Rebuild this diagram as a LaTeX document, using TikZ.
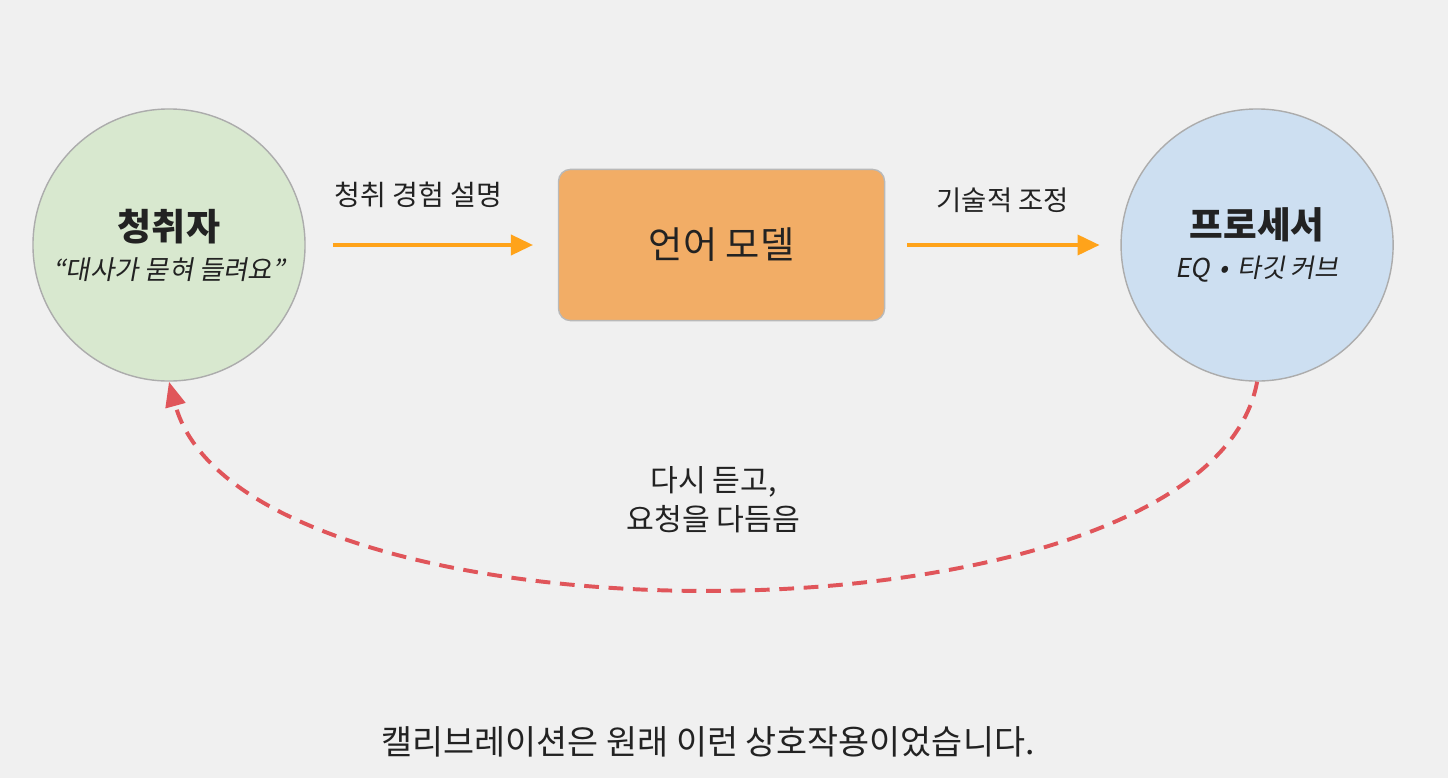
\documentclass[tikz,border=0pt]{standalone}
\usepackage{fontspec}
\setmainfont{Noto Sans CJK KR}
\newfontfamily\slantfont[FakeSlant=0.18]{Noto Sans CJK KR}
\usepackage{xcolor}
\usetikzlibrary{arrows.meta, positioning}

\definecolor{paper}{HTML}{F0F0F0}
\definecolor{inkgray}{HTML}{222222}
\definecolor{listgreen}{HTML}{D8E8CF}
\definecolor{procblue}{HTML}{CDDFF1}
\definecolor{modelorange}{HTML}{F2AD66}
\definecolor{arroworange}{HTML}{FFA31A}
\definecolor{loopred}{HTML}{E0555A}

\begin{document}
\begin{tikzpicture}[x=0.025cm, y=-0.025cm]
    % styles
    \tikzset{
        agent/.style = {circle, draw=gray!65, line width=1pt, minimum size=6.8cm, inner sep=0pt, align=center, text=inkgray},
        model/.style = {rectangle, draw=gray!55, line width=1pt, fill=modelorange, rounded corners=0.3cm, minimum width=8.15cm, minimum height=3.78cm, text=inkgray, font=\fontsize{26.5}{30}\selectfont},
        line/.style  = {draw=arroworange, line width=2.6pt, -{Triangle[length=0.55cm, width=0.5cm]}},
        back/.style  = {draw=loopred, line width=2.8pt, dash pattern=on 0.37cm off 0.24cm, -{Triangle[length=0.62cm, width=0.5cm]}},
        tag/.style   = {text=inkgray, font=\fontsize{20}{28}\selectfont, align=center}
    }

    % fond
    \fill[paper] (0,0) rectangle (1448,778);

    % noeuds principaux
    \node [agent, fill=listgreen] (listener) at (169,245)
        {{\bfseries\fontsize{26.3}{30}\selectfont 청취자}\\[0.3cm]{\slantfont\fontsize{18.8}{22}\selectfont “대사가 묻혀 들려요”}};
    \node [model, right=6.3cm of listener] (model) {언어 모델};
    \node [agent, fill=procblue, right=5.875cm of model] (processor)
        {{\bfseries\fontsize{26}{30}\selectfont 프로세서}\\[0.3cm]{\slantfont\fontsize{18.5}{22}\selectfont EQ\hspace{0.35em}•\hspace{0.35em}타깃 커브}};

    % connexions
    \path [line, shorten <=0.68cm, shorten >=0.62cm] (listener) -- node [tag, xshift=-0.33cm, yshift=1.25cm] (ask) {청취 경험 설명} (model);
    \path [line, shorten <=0.55cm, shorten >=0.52cm] (model) -- node [tag, font=\fontsize{19.5}{28}\selectfont, yshift=1.12cm] (tune) {기술적 조정} (processor);
    \path [back] (processor.south) .. controls +(-50,275) and +(75,275) .. node [tag, font=\fontsize{21.5}{28}\selectfont, xshift=-0.22cm, yshift=2.2cm] (retry) {다시 듣고,\\요청을 다듬음} (listener.south);

    % legende
    \node [text=inkgray, font=\fontsize{24}{28}\selectfont] (note) at (708,742) {캘리브레이션은 원래 이런 상호작용이었습니다.};
\end{tikzpicture}
\end{document}
